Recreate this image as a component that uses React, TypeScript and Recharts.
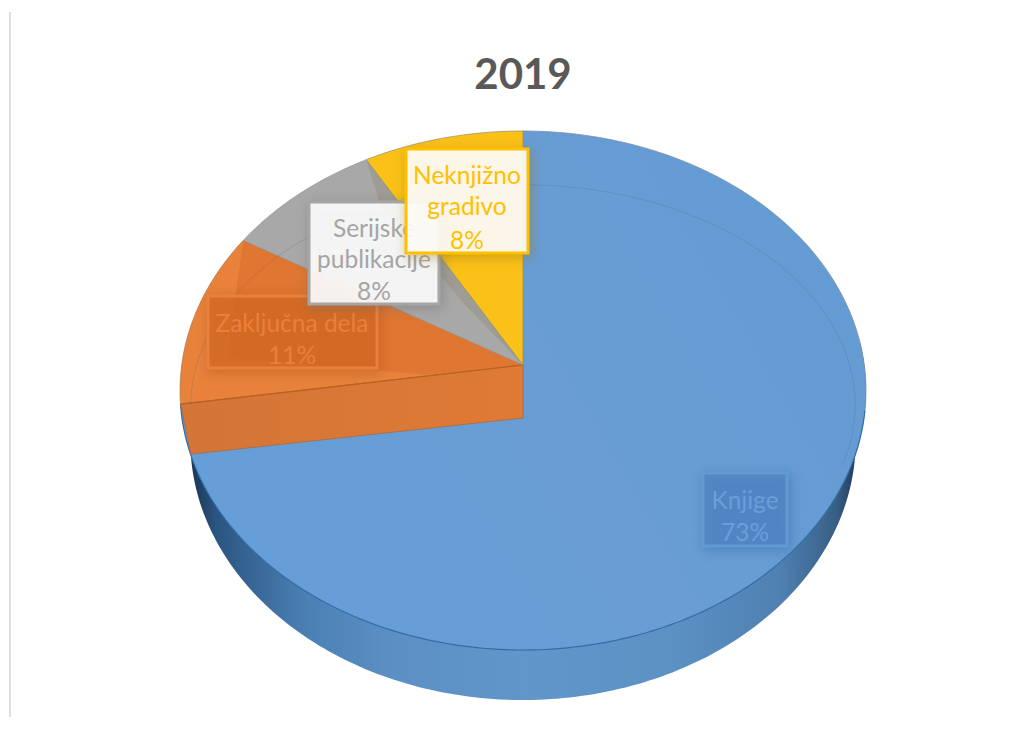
import React from "react";
import { PieChart, Pie } from "recharts";

const categories = ["Knjige", "Zaključna dela", "Serijske publikacije", "Neknjižno gradivo"];
const shares = [72.6, 10.9, 8.2, 8.3];
const labelLines = [["Knjige"], ["Zaključna dela"], ["Serijske", "publikacije"], ["Neknjižno", "gradivo"]];
const chartTitle = "2019";

const W = 1021, H = 729, CX = 523, CY = 365, R = 341.3;
const PERSP = 0.0983, SQUASH = 0.753, WALL = 50, WALL_SHRINK = 0.97;
const FONT = "Lato, 'Open Sans', sans-serif";

const FACE = ["url(#faceBlue)", "#E8823B", "#A8A8A8", "#FAC118"];
const BOX = [
  { x: 703, y: 473, w: 84, h: 73, fill: "#4F88C4", fo: 0.7, stroke: "#629AD4", text: "#689FD9", sw: 3, shadow: "rgba(63,116,173,0.8)", lineY: [509, 541], tx: 745 },
  { x: 208, y: 296, w: 169, h: 72, fill: "#D66A24", fo: 0.62, stroke: "#E98040", text: "#EC7E3C", sw: 3, shadow: "rgba(184,90,28,0.8)", lineY: [332, 364], tx: 292 },
  { x: 309, y: 202, w: 130, h: 102, fill: "#FFFFFF", fo: 0.9, stroke: "#A5A5A5", text: "#A5A5A5", sw: 3, shadow: "rgba(110,110,110,0.5)", lineY: [237, 268, 300], tx: 374 },
  { x: 406, y: 149, w: 122, h: 104, fill: "#FFFFFF", fo: 0.9, stroke: "#FFC000", text: "#FFC000", sw: 3, shadow: "rgba(160,124,16,0.5)", lineY: [184, 215, 249], tx: 467 },
];

type Pt = [number, number];
const proj = (cx: number, cy: number, rad: number, phiDeg: number, r = 1): Pt => {
  const p = (phiDeg * Math.PI) / 180;
  const s = r * Math.sin(p), c = r * Math.cos(p);
  const d = 1 + PERSP * c;
  return [cx + (rad * s) / d, cy - (rad * SQUASH * c) / d];
};
const path = (pts: Pt[], close = true) =>
  "M" + pts.map((p) => p[0].toFixed(2) + " " + p[1].toFixed(2)).join("L") + (close ? "Z" : "");
const arc = (cx: number, cy: number, rad: number, a: number, b: number, r = 1): Pt[] => {
  const n = Math.max(2, Math.ceil(Math.abs(b - a)));
  return Array.from({ length: n + 1 }, (_, i) => proj(cx, cy, rad, a + ((b - a) * i) / n, r));
};
const lower = (cx: number, p: Pt): Pt => [cx + (p[0] - cx) * WALL_SHRINK, p[1] + WALL];

function bevel(cx: number, cy: number, rad: number): Pt[] {
  const pts: Pt[] = [];
  for (let d = -90; d <= 106; d += 2) {
    const p = (d * Math.PI) / 180;
    pts.push([cx + rad * 0.973 * Math.sin(p), cy + 40 - rad * 0.645 * Math.cos(p)]);
  }
  return pts;
}

function Slice(props: any) {
  const { cx, cy, outerRadius, startAngle, endAngle } = props;
  const name = props.name ?? props.payload?.name;
  const i = categories.indexOf(name);
  const a = 90 - startAngle, b = 90 - endAngle;
  const rim = arc(cx, cy, outerRadius, a, b);
  const apex: Pt = [cx, cy];
  const wedge = path([apex, ...rim]);
  if (i === 0) {
    const wallRim = arc(cx, cy, outerRadius, 85, b);
    const wallLow = wallRim.map((p) => lower(cx, p)).reverse();
    const frontRim = arc(cx, cy, outerRadius, 100, b);
    const backRim = arc(cx, cy, outerRadius, a, 100);
    return (
      <g>
        <defs>
          <linearGradient id="wallBlue" gradientUnits="userSpaceOnUse" x1="188" y1="0" x2="862" y2="0">
            <stop offset="0" stopColor="#17324F" />
            <stop offset="0.04" stopColor="#2A5480" />
            <stop offset="0.17" stopColor="#4A7FB3" />
            <stop offset="0.3" stopColor="#5C90C4" />
            <stop offset="0.5" stopColor="#6096C9" />
            <stop offset="0.72" stopColor="#5C91C4" />
            <stop offset="0.88" stopColor="#4F80B1" />
            <stop offset="0.96" stopColor="#386086" />
            <stop offset="1" stopColor="#1A3450" />
          </linearGradient>
          <linearGradient id="faceBlue" gradientUnits="userSpaceOnUse" x1="180" y1="600" x2="860" y2="200">
            <stop offset="0" stopColor="#659ED8" />
            <stop offset="0.5" stopColor="#699DD4" />
            <stop offset="1" stopColor="#649BD3" />
          </linearGradient>
        </defs>
        <path d={path([...wallRim, ...wallLow])} fill="url(#wallBlue)" stroke="none" />
        <path d={wedge} fill={FACE[0]} stroke="none" />
        <path d={path(frontRim, false)} fill="none" stroke="#2F6CA8" strokeWidth={1.2} />
        <path d={path(backRim, false)} fill="none" stroke="#7d8fa3" strokeWidth={0.8} />
      </g>
    );
  }
  if (i === 1) {
    const outer = rim[0];
    const low = lower(cx, outer);
    const mid = a + (b - a) * 0.27;
    return (
      <g>
        <defs>
          <linearGradient id="wallOrange" gradientUnits="userSpaceOnUse" x1="180" y1="0" x2="523" y2="0">
            <stop offset="0" stopColor="#D37537" />
            <stop offset="1" stopColor="#E07A35" />
          </linearGradient>
        </defs>
        <path d={wedge} fill={FACE[1]} stroke="#9c6a45" strokeWidth={0.6} />
        <path
          d={path([apex, rim[rim.length - 1], proj(cx, cy, outerRadius, mid, 0.87), proj(cx, cy, outerRadius, a + 1, 0.283)])}
          fill="#DF7631"
        />
        <path d={path([apex, outer, low, [cx, cy + WALL + 3]])} fill="url(#wallOrange)" stroke="#A8663A" strokeWidth={0.7} />
        <path d={path([apex, outer], false)} fill="none" stroke="#BC611F" strokeWidth={1.2} />
      </g>
    );
  }
  if (i === 2) {
    const lastPt = rim[rim.length - 1];
    return (
      <g>
        <path d={wedge} fill={FACE[2]} stroke="#8f8f8f" strokeWidth={0.6} />
        <path d={path([apex, lastPt, proj(cx, cy, outerRadius, b - 4, 0.8), proj(cx, cy, outerRadius, b - 6, 0.3)])} fill="#9E9C94" />
      </g>
    );
  }
  return (
    <g>
      <path d={wedge} fill={FACE[3]} stroke="#8F8A6A" strokeWidth={0.7} />
      <path d={path(bevel(cx, cy, outerRadius), false)} fill="none" stroke="rgba(55,85,115,0.18)" strokeWidth={1} />
    </g>
  );
}

function SliceLabel(props: any) {
  const i = props.index;
  const b = BOX[i];
  const lines = [...labelLines[i], Math.round(shares[i]) + "%"];
  return (
    <g>
      <rect
        x={b.x} y={b.y} width={b.w} height={b.h}
        fill={b.fill} fillOpacity={b.fo} stroke={b.stroke} strokeWidth={b.sw}
        style={{ filter: `drop-shadow(2px 3px 6px ${b.shadow})` }}
      />
      {lines.map((t, k) => (
        <text key={k} x={b.tx} y={b.lineY[k]} textAnchor="middle" fontFamily={FONT} fontSize={24.5} fill={b.text}>
          {t}
        </text>
      ))}
    </g>
  );
}

const chartData = categories.map((name, i) => ({ name, value: shares[i] }));

export default function App() {
  return (
    <div style={{ position: "absolute", left: 0, top: 0, width: W, height: H, background: "#fff", overflow: "hidden" }}>
      <div style={{ position: "absolute", left: 9, top: 12, width: 2, height: 705, background: "#DEDEDE" }} />
      <PieChart width={W} height={H} margin={{ top: 0, right: 0, bottom: 0, left: 0 }} style={{ position: "absolute", left: 0, top: 0 }}>
        <text x={523} y={89} textAnchor="middle" fontFamily={FONT} fontWeight={700} fontSize={42} fill="#595959">
          {chartTitle}
        </text>
        <Pie
          data={chartData}
          dataKey="value"
          nameKey="name"
          cx={CX}
          cy={CY}
          innerRadius={0}
          outerRadius={R}
          startAngle={90}
          endAngle={-270}
          stroke="none"
          isAnimationActive={false}
          shape={Slice}
          label={SliceLabel}
          labelLine={false}
        />
      </PieChart>
    </div>
  );
}
